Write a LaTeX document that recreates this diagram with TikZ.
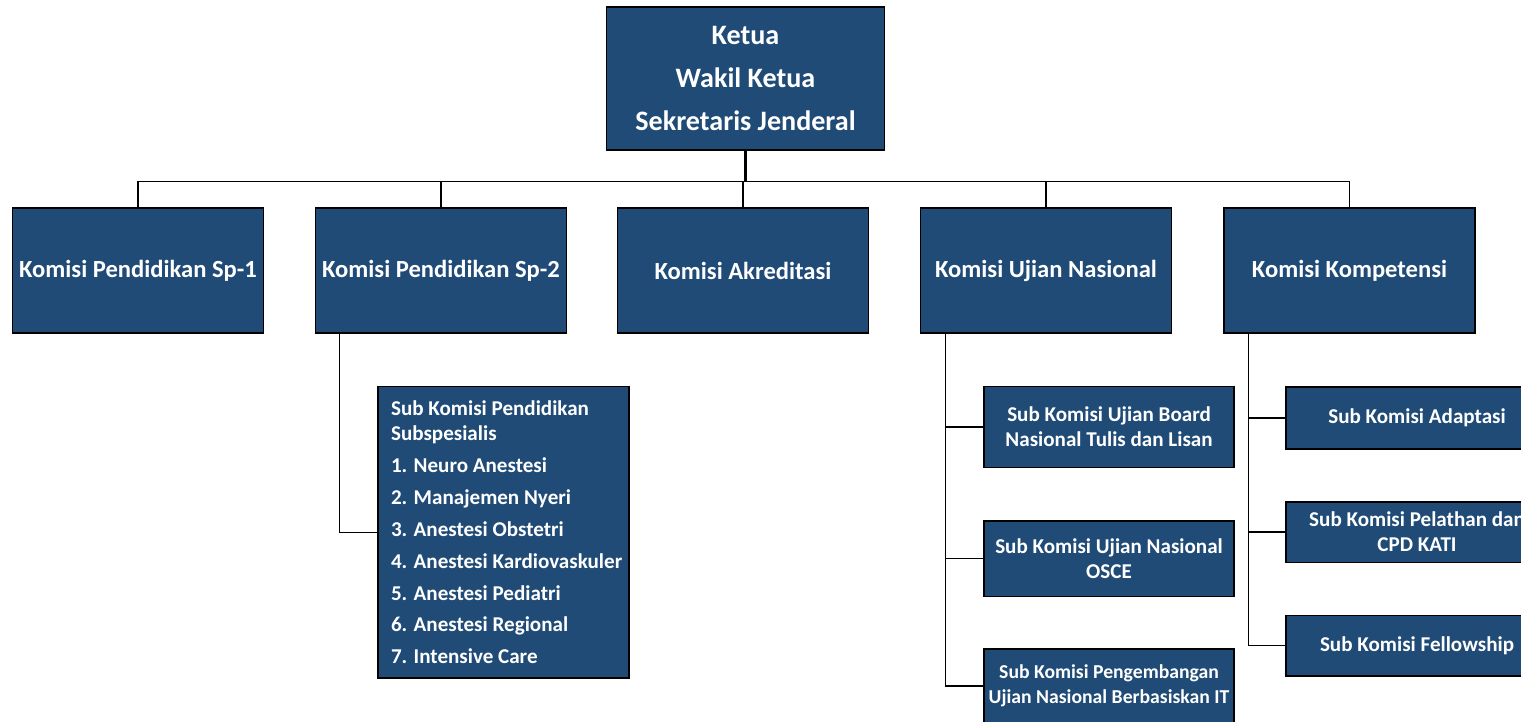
\documentclass[tikz,border=0pt]{standalone}
\usepackage{fontspec}
\setmainfont{Carlito}
\definecolor{boxblue}{HTML}{1F4B76}
\tikzset{
  orgbox/.style={draw=black, line width=0.85pt, fill=boxblue, text=white, inner sep=0pt, align=center},
  headbox/.style={orgbox, minimum width=5.56cm, minimum height=2.86cm, font=\bfseries\fontsize{16}{24.4}\selectfont},
  kombox/.style={orgbox, minimum width=5.02cm, minimum height=2.5cm, font=\bfseries\fontsize{14}{16}\selectfont},
  subbox/.style={orgbox, minimum width=5cm, font=\bfseries\fontsize{12}{14.2}\selectfont},
  link/.style={draw=black, line width=0.75pt}
}
\begin{document}
\begin{tikzpicture}[x=0.02cm, y=-0.02cm]
        \useasboundingbox (0,0) rectangle (1521,721);
        \node[headbox] (ketua) at (745.5, 78.5) {Ketua\\Wakil Ketua\\Sekretaris Jenderal};
        \node[kombox] (sp1) at (138, 270.5) {Komisi Pendidikan Sp-1};
        \node[kombox] (sp2) at (441, 270.5) {Komisi Pendidikan Sp-2};
        \node[kombox] (akr) at (743, 270.5) {Komisi Akreditasi};
        \node[kombox] (uji) at (1046, 270.5) {Komisi Ujian Nasional};
        \node[kombox] (kom) at (1349.5, 270.5) {Komisi Kompetensi};
        \node[subbox, minimum width=5.02cm, minimum height=5.83cm, text width=4.5cm, inner xsep=0.26cm, align=flush left,
              font=\bfseries\fontsize{12}{18.2}\selectfont] (subsp) at (503.5, 532.25)
              {Sub Komisi Pendidikan\\[-4pt]Subspesialis\\1. Neuro Anestesi\\2. Manajemen Nyeri\\3. Anestesi Obstetri\\
               \mbox{4. Anestesi Kardiovaskuler}\\5. Anestesi Pediatri\\6. Anestesi Regional\\7. Intensive Care};
        \node[subbox, minimum height=1.62cm] (ub1) at (1109, 427) {Sub Komisi Ujian Board\\Nasional Tulis dan Lisan};
        \node[subbox, minimum height=1.51cm] (ub2) at (1109, 558.75) {Sub Komisi Ujian Nasional\\OSCE};
        \node[subbox, minimum height=1.48cm, font=\bfseries\fontsize{11.2}{14.2}\selectfont] (ub3) at (1109, 686)
              {Sub Komisi Pengembangan\\Ujian Nasional Berbasiskan IT};
        \node[subbox, minimum width=5.24cm, minimum height=1.24cm] (kb1) at (1417, 418) {Sub Komisi Adaptasi};
        \node[subbox, minimum width=5.24cm, minimum height=1.21cm] (kb2) at (1417, 532) {Sub Komisi Pelathan dan\\CPD KATI};
        \node[subbox, minimum width=5.24cm, minimum height=1.21cm] (kb3) at (1417, 645.5) {Sub Komisi Fellowship};
        \coordinate (bus) at (745.5, 181.5);
        \draw[link, line width=1.2pt] (ketua.south) -- (bus);
        \foreach \k in {sp1,sp2,akr,uji,kom} \draw[link] (bus) -| (\k.north);
        \draw[link] ([xshift=0.5cm]sp2.south west) |- (subsp.west);
        \foreach \s in {ub1,ub2,ub3} \draw[link] ([xshift=0.51cm]uji.south west) |- (\s.west);
        \foreach \s in {kb1,kb2,kb3} \draw[link] ([xshift=0.5cm]kom.south west) |- (\s.west);
\end{tikzpicture}
\end{document}
